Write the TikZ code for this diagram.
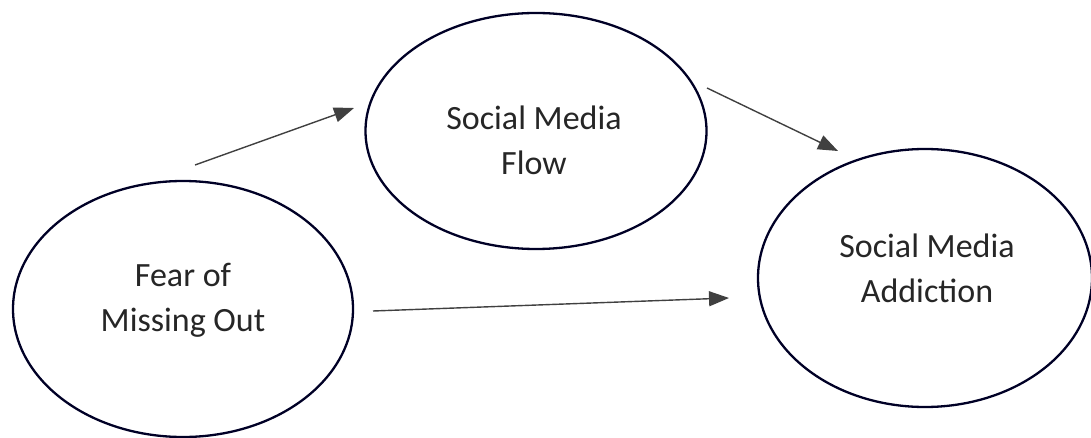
\documentclass[tikz,border=0pt]{standalone}
\usepackage{fontspec}
\setmainfont{Carlito}
\usetikzlibrary{shapes.geometric,arrows.meta}
\begin{document}
\begin{tikzpicture}[x=1pt,y=-1pt,
  bubble/.style={draw=black!75!blue!60!black,line width=2.3pt,ellipse,inner sep=0pt},
  lbl/.style={align=center,font=\fontsize{34}{45}\selectfont,text=black!85,inner sep=0pt},
  conn/.style={draw=black!75,line width=1.4pt,-{Triangle[length=20pt,width=15pt]}}]
\useasboundingbox (0,0) rectangle (1091,438);
\node[bubble,minimum width=340pt,minimum height=256pt] (fomo) at (183,309) {};
\node[bubble,minimum width=341pt,minimum height=236pt] (flow) at (536,131) {};
\node[bubble,minimum width=334pt,minimum height=258pt] (add) at (925,278) {};
\node[lbl] (fomoT) at (183,300) {Fear of\\Missing Out};
\node[lbl] (flowT) at (534,140) {Social Media\\Flow};
\node[lbl] (addT) at (927,268) {Social Media\\Addiction};
\coordinate (a1s) at (195,165);
\coordinate (a1e) at (354,108);
\coordinate (a2s) at (707,88);
\coordinate (a2e) at (838,151);
\coordinate (a3s) at (373,311);
\coordinate (a3e) at (729,298);
\draw[conn] (a1s) -- (a1e);
\draw[conn] (a2s) -- (a2e);
\draw[conn] (a3s) -- (a3e);
\end{tikzpicture}
\end{document}
